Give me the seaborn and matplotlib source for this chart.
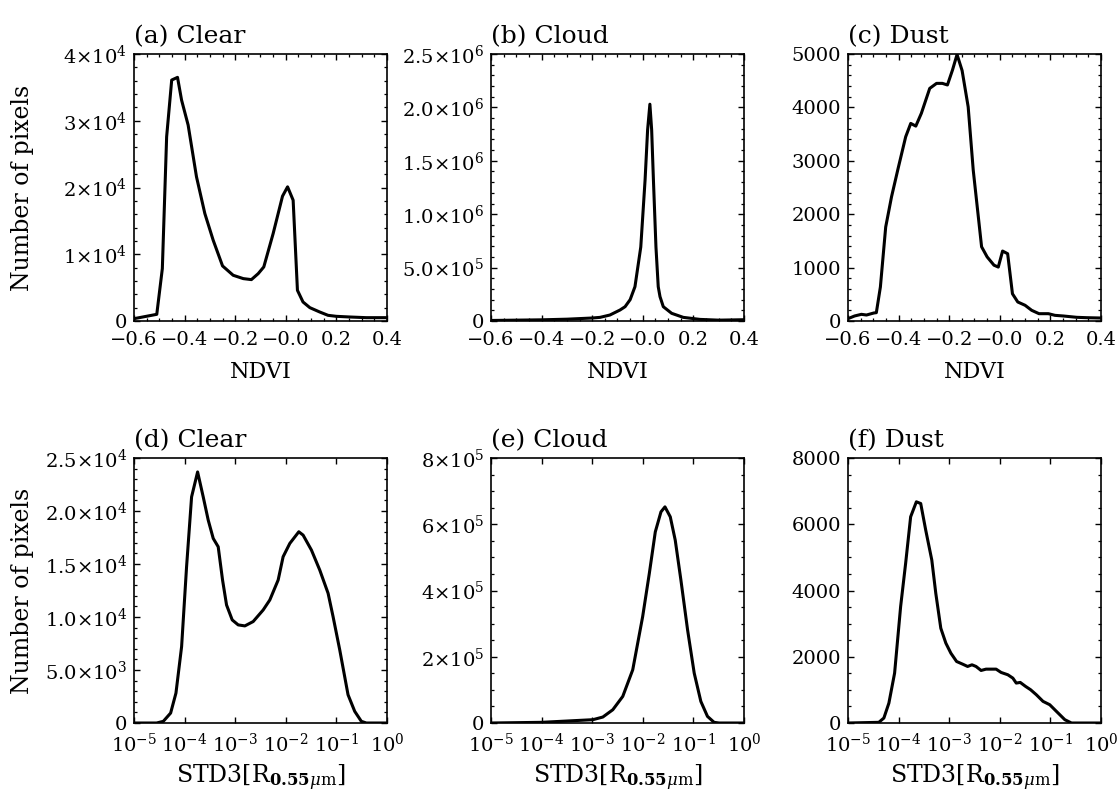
import numpy as np
import pandas as pd
import matplotlib
matplotlib.use("Agg")
import matplotlib.pyplot as plt
from matplotlib.ticker import MultipleLocator, FixedLocator, LogLocator, NullFormatter
import seaborn as sns

# ---------------- data ----------------
ndvi_clear_x = [-0.6, -0.51, -0.488, -0.471, -0.451, -0.428, -0.412, -0.386, -0.353, -0.32,
                -0.287, -0.25, -0.208, -0.168, -0.136, -0.109, -0.087, -0.05, -0.013, 0.007,
                0.029, 0.046, 0.068, 0.095, 0.134, 0.167, 0.2, 0.253, 0.318, 0.397]
ndvi_clear_y = [350, 1000, 7850, 27600, 36100, 36500, 33100, 29350, 21600, 16100,
                12100, 8250, 6850, 6350, 6200, 7100, 8100, 13100, 18700, 20100,
                18100, 4600, 2850, 2000, 1350, 850, 700, 600, 500, 500]

ndvi_cloud_x = [-0.6, -0.5, -0.4, -0.3, -0.2, -0.169, -0.13, -0.09, -0.07, -0.05, -0.031,
                -0.008, 0.009, 0.019, 0.028, 0.035, 0.042, 0.052, 0.061, 0.068, 0.081,
                0.114, 0.16, 0.226, 0.3, 0.4]
ndvi_cloud_y = [5e3, 8e3, 11e3, 17e3, 28e3, 34e3, 56e3, 103e3, 134e3, 200e3, 321e3,
                693e3, 1.32e6, 1.79e6, 2.03e6, 1.79e6, 1.32e6, 693e3, 321e3, 228e3, 134e3,
                72e3, 34e3, 15e3, 8e3, 12e3]

ndvi_dust_x = [-0.6, -0.574, -0.547, -0.527, -0.498, -0.488, -0.472, -0.451, -0.428, -0.402,
               -0.372, -0.352, -0.332, -0.31, -0.277, -0.25, -0.227, -0.207, -0.187, -0.169,
               -0.149, -0.125, -0.105, -0.072, -0.05, -0.023, -0.006, 0.011, 0.031, 0.05,
               0.071, 0.1, 0.126, 0.155, 0.192, 0.218, 0.251, 0.304, 0.343, 0.4]
ndvi_dust_y = [44, 94, 125, 112, 150, 156, 637, 1760, 2325, 2856,
               3450, 3700, 3650, 3890, 4356, 4450, 4450, 4420, 4700, 4990,
               4690, 4010, 2825, 1390, 1200, 1045, 1010, 1310, 1260, 510,
               356, 294, 200, 137, 137, 106, 94, 69, 62, 56]

std_clear_logx = [-5, -4.553, -4.421, -4.276, -4.171, -4.059, -3.961, -3.862, -3.743, -3.632,
                  -3.533, -3.434, -3.336, -3.25, -3.171, -3.059, -2.941, -2.809, -2.645, -2.447,
                  -2.316, -2.151, -2.053, -1.921, -1.743, -1.658, -1.493, -1.329, -1.164, -1.066,
                  -0.934, -0.77, -0.638, -0.507, -0.408, 0]
std_clear_y = [0, 0, 157, 940, 2820, 7215, 14745, 21330, 23685, 21330,
               19135, 17410, 16625, 13490, 11135, 9725, 9255, 9160, 9570, 10665,
               11607, 13490, 15685, 16940, 18040, 17725, 16310, 14430, 12235, 10040,
               6900, 2665, 1100, 157, 0, 0]

std_cloud_logx = [-5, -4.003, -2.986, -2.79, -2.593, -2.396, -2.199, -2.003, -1.871, -1.753,
                  -1.641, -1.562, -1.457, -1.359, -1.247, -1.115, -0.984, -0.853, -0.722,
                  -0.591, -0.492, 0]
std_cloud_y = [0, 2000, 10000, 18000, 40000, 80300, 160600, 321000, 451700, 577000,
               637400, 652500, 622400, 552000, 431600, 281000, 150600, 65250, 20000,
               2000, 0, 0]

std_dust_logx = [-5, -4.391, -4.291, -4.192, -4.079, -3.96, -3.861, -3.762, -3.649, -3.563,
                 -3.464, -3.344, -3.265, -3.166, -3.066, -2.967, -2.854, -2.735, -2.636, -2.55,
                 -2.47, -2.37, -2.272, -2.073, -1.974, -1.841, -1.742, -1.675, -1.596, -1.49,
                 -1.391, -1.278, -1.146, -1.013, -0.881, -0.715, -0.583, 0]
std_dust_y = [0, 20, 150, 600, 1506, 3514, 4819, 6225, 6677, 6626,
              5823, 4920, 3915, 2861, 2410, 2108, 1857, 1777, 1707, 1757,
              1707, 1586, 1626, 1626, 1526, 1456, 1355, 1205, 1225, 1104,
              1004, 853, 653, 552, 351, 100, 0, 0]

titles = ["(a) Clear", "(b) Cloud", "(c) Dust", "(d) Clear", "(e) Cloud", "(f) Dust"]

ndvi_ticks = [-0.6, -0.4, -0.2, 0.0, 0.2, 0.4]
ndvi_ticklabels = ["\u22120.6", "\u22120.4", "\u22120.2", "\u22120.0", "0.2", "0.4"]
log_ticks = [1e-5, 1e-4, 1e-3, 1e-2, 1e-1, 1e0]
log_ticklabels = [r"$10^{-5}$", r"$10^{-4}$", r"$10^{-3}$", r"$10^{-2}$", r"$10^{-1}$", r"$10^{0}$"]

yticks_a = [0, 1e4, 2e4, 3e4, 4e4]
ylabels_a = ["0", r"$1{\times}10^{4}$", r"$2{\times}10^{4}$", r"$3{\times}10^{4}$", r"$4{\times}10^{4}$"]
yticks_b = [0, 5e5, 1e6, 1.5e6, 2e6, 2.5e6]
ylabels_b = ["0", r"$5.0{\times}10^{5}$", r"$1.0{\times}10^{6}$", r"$1.5{\times}10^{6}$",
             r"$2.0{\times}10^{6}$", r"$2.5{\times}10^{6}$"]
yticks_c = [0, 1000, 2000, 3000, 4000, 5000]
ylabels_c = ["0", "1000", "2000", "3000", "4000", "5000"]
yticks_d = [0, 5e3, 1e4, 1.5e4, 2e4, 2.5e4]
ylabels_d = ["0", r"$5.0{\times}10^{3}$", r"$1.0{\times}10^{4}$", r"$1.5{\times}10^{4}$",
             r"$2.0{\times}10^{4}$", r"$2.5{\times}10^{4}$"]
yticks_e = [0, 2e5, 4e5, 6e5, 8e5]
ylabels_e = ["0", r"$2{\times}10^{5}$", r"$4{\times}10^{5}$", r"$6{\times}10^{5}$", r"$8{\times}10^{5}$"]
yticks_f = [0, 2000, 4000, 6000, 8000]
ylabels_f = ["0", "2000", "4000", "6000", "8000"]

# ---------------- style ----------------
sns.set_theme(style="ticks")
plt.rcParams["font.family"] = ["DejaVu Serif"]
plt.rcParams["mathtext.fontset"] = "dejavuserif"
plt.rcParams["axes.linewidth"] = 1.2
plt.rcParams["axes.edgecolor"] = "black"
plt.rcParams["text.color"] = "black"
plt.rcParams["axes.labelcolor"] = "black"
plt.rcParams["xtick.color"] = "black"
plt.rcParams["ytick.color"] = "black"

fig = plt.figure(figsize=(11.19, 7.95), dpi=100)
W, H = 1119, 795

lefts = [134, 491, 848]
top_row = (54, 321)
bot_row = (458, 723)

def make_ax(left, row):
    t, b = row
    return fig.add_axes([left / W, 1 - b / H, 253 / W, (b - t) / H])

panels = [
    (ndvi_clear_x, ndvi_clear_y, False, yticks_a, ylabels_a, 2000),
    (ndvi_cloud_x, ndvi_cloud_y, False, yticks_b, ylabels_b, 1e5),
    (ndvi_dust_x, ndvi_dust_y, False, yticks_c, ylabels_c, 200),
    (std_clear_logx, std_clear_y, True, yticks_d, ylabels_d, 1000),
    (std_cloud_logx, std_cloud_y, True, yticks_e, ylabels_e, 5e4),
    (std_dust_logx, std_dust_y, True, yticks_f, ylabels_f, 500),
]

for i, (xs, ys, is_log, yt, yl, ymin) in enumerate(panels):
    row = top_row if i < 3 else bot_row
    ax = make_ax(lefts[i % 3], row)
    if is_log:
        xv = np.power(10.0, np.array(xs, dtype=float))
    else:
        xv = np.array(xs, dtype=float)
    df = pd.DataFrame({"x": xv, "y": ys})
    sns.lineplot(data=df, x="x", y="y", ax=ax, color="black", linewidth=2.2,
                 estimator=None, sort=False)
    if is_log:
        ax.set_xscale("log")
        ax.set_xlim(1e-5, 1)
        ax.xaxis.set_major_locator(FixedLocator(log_ticks))
        ax.set_xticklabels(log_ticklabels)
        ax.xaxis.set_minor_locator(LogLocator(base=10, subs=np.arange(2, 10)))
        ax.xaxis.set_minor_formatter(NullFormatter())
        ax.set_xlabel(r"STD3$[\mathrm{R}_{\mathbf{0.55}\mu\mathrm{m}}]$", fontsize=17)
    else:
        ax.set_xlim(-0.6, 0.4)
        ax.set_xticks(ndvi_ticks)
        ax.set_xticklabels(ndvi_ticklabels)
        ax.xaxis.set_minor_locator(MultipleLocator(0.05))
        ax.set_xlabel("NDVI", fontsize=16)
    ax.set_ylim(yt[0], yt[-1])
    ax.set_yticks(yt)
    ax.set_yticklabels(yl)
    ax.yaxis.set_minor_locator(MultipleLocator(ymin))
    ax.tick_params(which="both", direction="in", top=True, right=True, colors="black",
                   labelsize=14)
    ax.tick_params(which="major", length=4.5, width=1.0)
    ax.tick_params(which="minor", length=2.0, width=0.9)
    ax.tick_params(axis="x", which="major", pad=7)
    ax.tick_params(axis="y", which="major", pad=5)
    ax.xaxis.set_label_coords(0.5, -0.15)
    if i % 3 == 0:
        ax.set_ylabel("Number of pixels", fontsize=17, va="center")
        ax.yaxis.set_label_coords(-0.44, 0.5)
    else:
        ax.set_ylabel("")
    ax.set_title(titles[i], loc="left", fontsize=18, pad=8)
    for sp in ax.spines.values():
        sp.set_visible(True)
        sp.set_linewidth(1.2)

fig.savefig("out.png", dpi=100)
